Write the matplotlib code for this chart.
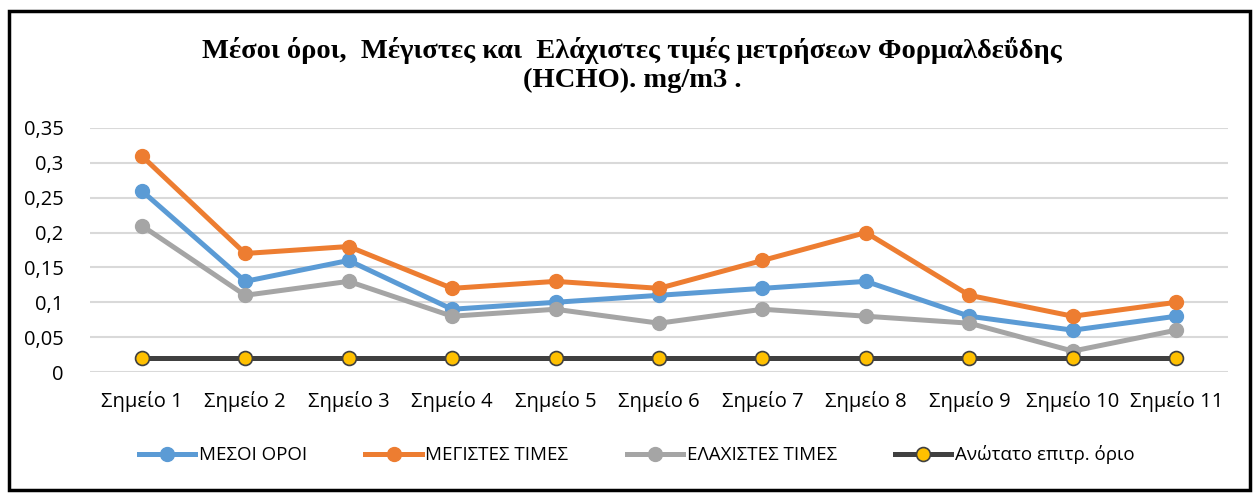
import numpy as np
import matplotlib.pyplot as plt
from matplotlib.patches import Rectangle
from matplotlib.ticker import FuncFormatter

# data
points = ['Σημείο %d' % i for i in range(1, 12)]
mesoi = [0.26, 0.13, 0.16, 0.09, 0.10, 0.11, 0.12, 0.13, 0.08, 0.06, 0.08]
megistes = [0.31, 0.17, 0.18, 0.12, 0.13, 0.12, 0.16, 0.20, 0.11, 0.08, 0.10]
elaxistes = [0.21, 0.11, 0.13, 0.08, 0.09, 0.07, 0.09, 0.08, 0.07, 0.03, 0.06]
orio = [0.02] * 11
yticks = [0, 0.05, 0.1, 0.15, 0.2, 0.25, 0.3, 0.35]

plt.rcParams['font.family'] = ['Open Sans', 'DejaVu Sans']

fig = plt.figure(figsize=(12.56, 4.93), dpi=100)
ax = fig.add_axes([90 / 1256, 1 - 372 / 493, (1228 - 90) / 1256, (372 - 128) / 493])

x = np.arange(len(points))
ax.plot(x, mesoi, color='#5B9BD5', lw=3.6, marker='o', ms=10, label='ΜΕΣΟΙ ΟΡΟΙ', zorder=3)
ax.plot(x, megistes, color='#ED7D31', lw=3.6, marker='o', ms=10, label='ΜΕΓΙΣΤΕΣ ΤΙΜΕΣ', zorder=3)
ax.plot(x, elaxistes, color='#A5A5A5', lw=3.6, marker='o', ms=10, label='ΕΛΑΧΙΣΤΕΣ ΤΙΜΕΣ', zorder=3)
ax.plot(x, orio, color='#404040', lw=3.6, marker='o', ms=10, mfc='#FFC000', mec='#404040',
        mew=1.2, label='Ανώτατο επιτρ. όριο', zorder=4)

ax.set_xlim(-0.5, len(points) - 0.5)
ax.set_ylim(0, 0.35)
ax.set_yticks(yticks)
ax.yaxis.set_major_formatter(FuncFormatter(lambda v, p: ('%g' % v).replace('.', ',')))
ax.set_xticks(x)
ax.set_xticklabels(points)
ax.tick_params(length=0, labelsize=14.5, pad=14)
ax.tick_params(axis='y', pad=19)
ax.grid(axis='y', color='#D9D9D9', lw=1.5)
ax.set_axisbelow(True)
for s in ax.spines.values():
    s.set_visible(False)

fig.text(0.503, 1 - 65 / 493, 'Μέσοι όροι,  Μέγιστες και  Ελάχιστες τιμές μετρήσεων Φορμαλδεΰδης\n(HCHO). mg/m3 .',
         ha='center', va='center', fontsize=20.5, fontweight='bold', family='Liberation Serif',
         linespacing=1.2)

fig.legend(loc='center', bbox_to_anchor=(0.507, 1 - 455 / 493), ncol=4, frameon=False,
           fontsize=13.5, handlelength=3.0, columnspacing=3.1, handletextpad=0.2)

fig.patches.append(Rectangle((9 / 1256, 1 - 490 / 493), 1241 / 1256, 479 / 493,
                             transform=fig.transFigure, fill=False, ec='black', lw=2.5))

fig.savefig('out.png', dpi=100)
